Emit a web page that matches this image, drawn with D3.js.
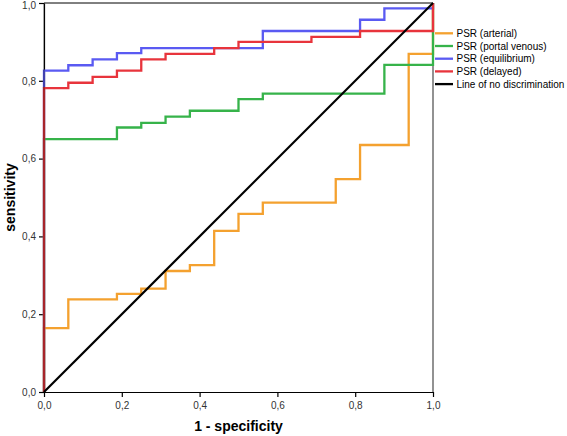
<!DOCTYPE html>
<html>
<head>
<meta charset="utf-8">
<script src="https://cdn.jsdelivr.net/npm/d3@7"></script>
<style>
  html, body { margin: 0; padding: 0; background: #fff; }
  svg { display: block; }
  text { font-family: "Liberation Sans", Arial, Helvetica, sans-serif; }
</style>
</head>
<body>
<svg id="chart" width="567" height="436"></svg>
<script>
// ---- Data ----
const seriesNames = ["PSR (arterial)", "PSR (portal venous)", "PSR (equilibrium)", "PSR (delayed)"];
const seriesColors = ["#f4a12f", "#36b34a", "#5a5af2", "#e8343c"];

const arterialFpr = [0, 0, 0.0625, 0.1875, 0.25, 0.3125, 0.375, 0.4375, 0.5, 0.5625, 0.75, 0.8125, 0.9375, 1, 1];
const arterialTpr = [0, 0.164, 0.238, 0.252, 0.266, 0.311, 0.326, 0.414, 0.458, 0.487, 0.547, 0.635, 0.869, 0.869, 1];

const portalFpr = [0, 0, 0.1875, 0.25, 0.3125, 0.375, 0.5, 0.5625, 0.875, 1, 1];
const portalTpr = [0, 0.650, 0.680, 0.692, 0.708, 0.723, 0.753, 0.767, 0.841, 0.841, 1];

const equilibriumFpr = [0, 0, 0.0625, 0.125, 0.1875, 0.25, 0.5625, 0.8125, 0.875, 1, 1];
const equilibriumTpr = [0, 0.826, 0.840, 0.855, 0.871, 0.884, 0.928, 0.957, 0.986, 0.986, 1];

const delayedFpr = [0, 0, 0.0625, 0.125, 0.1875, 0.25, 0.3125, 0.4375, 0.5, 0.6875, 0.8125, 1, 1];
const delayedTpr = [0, 0.781, 0.795, 0.810, 0.826, 0.855, 0.869, 0.884, 0.900, 0.913, 0.928, 0.928, 1];

const diagonalFpr = [0, 1];
const diagonalTpr = [0, 1];
const diagonalName = "Line of no discrimination";

const tickValues = [0, 0.2, 0.4, 0.6, 0.8, 1.0];
const xTitle = "1 - specificity";
const yTitle = "sensitivity";

// ---- Drawing ----
const svg = d3.select("#chart");
const x = d3.scaleLinear().domain([0, 1]).range([44, 433]);
const y = d3.scaleLinear().domain([0, 1]).range([392, 3]);
const fmt = v => d3.format(".1f")(v).replace(".", ",");

// frame: top black, right gray
svg.append("line").attr("x1", x(0)).attr("x2", x(1)).attr("y1", y(1)).attr("y2", y(1))
  .attr("stroke", "#000").attr("stroke-width", 1);
svg.append("line").attr("x1", x(1)).attr("x2", x(1)).attr("y1", y(1)).attr("y2", y(0))
  .attr("stroke", "#777").attr("stroke-width", 1.6);

const xAxis = svg.append("g").attr("transform", `translate(0,${y(0)})`)
  .call(d3.axisBottom(x).tickValues(tickValues).tickFormat(fmt).tickSize(5).tickSizeOuter(0));
const yAxis = svg.append("g").attr("transform", `translate(${x(0)},0)`)
  .call(d3.axisLeft(y).tickValues(tickValues).tickFormat(fmt).tickSize(5).tickSizeOuter(0));
[xAxis, yAxis].forEach(g => {
  g.select(".domain").attr("stroke", "#000").attr("stroke-width", 1.2);
  g.selectAll(".tick line").attr("stroke", "#000").attr("stroke-width", 1.2);
  g.selectAll(".tick text").attr("fill", "#333").style("font-size", "10px")
    .style("font-family", "'Liberation Sans', Arial, sans-serif");
});
xAxis.selectAll(".tick text").attr("dy", "0.9em");
// keep the top y label inside the picture
yAxis.selectAll(".tick text").filter(d => d === 1).attr("dy", "0.55em");

// titles
svg.append("text").attr("x", (x(0) + x(1)) / 2).attr("y", 431)
  .attr("text-anchor", "middle").style("font-size", "14px").style("font-weight", "bold")
  .text(xTitle);
svg.append("text").attr("transform", `translate(15,${(y(0) + y(1)) / 2}) rotate(-90)`)
  .attr("text-anchor", "middle").style("font-size", "14px").style("font-weight", "bold")
  .text(yTitle);

// curves
const seriesData = [
  [arterialFpr, arterialTpr],
  [portalFpr, portalTpr],
  [equilibriumFpr, equilibriumTpr],
  [delayedFpr, delayedTpr]
].map(([f, t]) => f.map((v, i) => [v, t[i]]));

const stepLine = d3.line().x(d => x(d[0])).y(d => y(d[1])).curve(d3.curveStepAfter);
seriesData.forEach((pts, i) => {
  svg.append("path").datum(pts).attr("d", stepLine)
    .attr("fill", "none").attr("stroke", seriesColors[i]).attr("stroke-width", 2.3)
    .attr("stroke-linejoin", "miter").attr("stroke-linecap", "butt");
});

// left axis line over the curves' starting vertical (gives the dark red edge)
svg.append("line").attr("x1", x(0)).attr("x2", x(0)).attr("y1", y(0)).attr("y2", y(1))
  .attr("stroke", "#000").attr("stroke-width", 0.8).attr("stroke-opacity", 0.7);

const diagPts = diagonalFpr.map((v, i) => [v, diagonalTpr[i]]);
svg.append("path").datum(diagPts).attr("d", d3.line().x(d => x(d[0])).y(d => y(d[1])))
  .attr("fill", "none").attr("stroke", "#000").attr("stroke-width", 2.2);

// legend
const legendNames = seriesNames.concat([diagonalName]);
const legendColors = seriesColors.concat(["#000"]);
const lg = svg.append("g");
legendNames.forEach((name, i) => {
  const yy = 33.3 + i * 12.7;
  lg.append("line").attr("x1", 435).attr("x2", 453).attr("y1", yy).attr("y2", yy)
    .attr("stroke", legendColors[i]).attr("stroke-width", 2.3);
  lg.append("text").attr("x", 456.5).attr("y", yy).attr("dy", "0.35em")
    .attr("fill", "#000").style("font-size", "10px").text(name);
});
</script>
</body>
</html>
